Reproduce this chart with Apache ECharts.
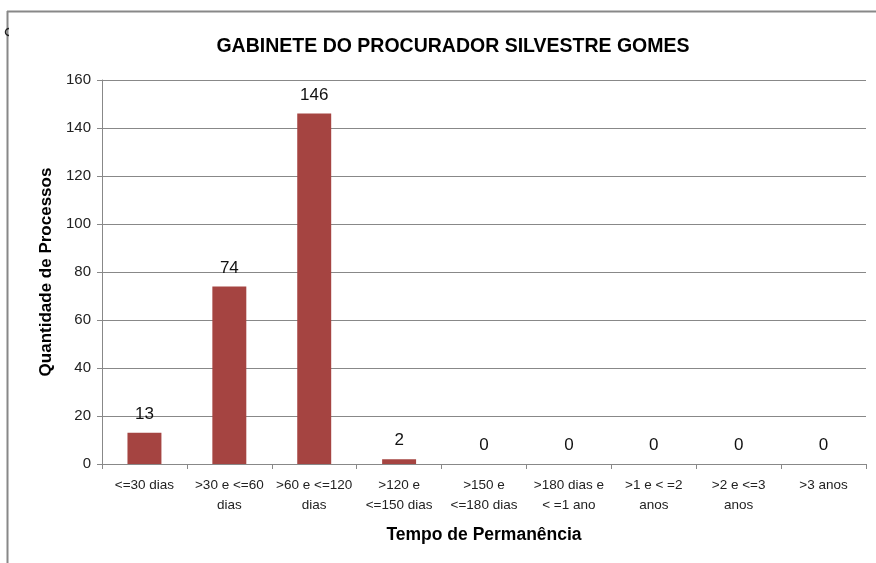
<!DOCTYPE html>
<html>
<head>
<meta charset="utf-8">
<script src="https://cdn.jsdelivr.net/npm/echarts@6/dist/echarts.min.js"></script>
<style>
html,body{margin:0;padding:0;background:#fff;}
#c{width:876px;height:563px;}
</style>
</head>
<body>
<div id="c"></div>
<script>
const categories = ["<=30 dias", ">30 e <=60\ndias", ">60 e <=120\ndias", ">120 e\n<=150 dias", ">150 e\n<=180 dias", ">180 dias e\n< =1 ano", ">1 e < =2\nanos", ">2 e <=3\nanos", ">3 anos"];
const values = [13, 74, 146, 2, 0, 0, 0, 0, 0];
const yTicks = [0, 20, 40, 60, 80, 100, 120, 140, 160];

const FONT = '"Liberation Sans", Arial, sans-serif';
const chart = echarts.init(document.getElementById('c'), null, {renderer: 'canvas'});
chart.setOption({
  animation: false,
  backgroundColor: '#fff',
  title: {
    text: 'GABINETE DO PROCURADOR SILVESTRE GOMES',
    left: 448, top: 32, textAlign: 'center',
    textStyle: {fontFamily: FONT, fontSize: 19.5, fontWeight: 'bold', color: '#000'}
  },
  graphic: [
    {type: 'line', shape: {x1: 7.5, y1: 11, x2: 7.5, y2: 563}, style: {stroke: '#888', lineWidth: 2}},
    {type: 'line', shape: {x1: 7, y1: 11.5, x2: 876, y2: 11.5}, style: {stroke: '#888', lineWidth: 2}},
    {type: 'arc', shape: {cx: 9, cy: 32, r: 3.5, startAngle: Math.PI / 2, endAngle: Math.PI * 1.5}, style: {stroke: '#222', lineWidth: 1.5, fill: null}}
  ],
  grid: {left: 102, right: 10, top: 80, bottom: 99, containLabel: false},
  xAxis: {
    type: 'category',
    data: categories,
    name: 'Tempo de Permanência',
    nameLocation: 'middle',
    nameGap: 62,
    nameTextStyle: {fontFamily: FONT, fontSize: 17.5, fontWeight: 'bold', color: '#000'},
    axisLine: {lineStyle: {color: '#888', width: 1}},
    axisTick: {show: true, alignWithLabel: false, length: 5, lineStyle: {color: '#888'}},
    axisLabel: {interval: 0, fontFamily: FONT, fontSize: 13.5, color: '#222', lineHeight: 20, margin: 11}
  },
  yAxis: {
    type: 'value',
    min: yTicks[0], max: yTicks[yTicks.length - 1], interval: yTicks[1] - yTicks[0],
    name: 'Quantidade de Processos',
    nameLocation: 'middle',
    nameGap: 44,
    nameRotate: 90,
    nameTextStyle: {fontFamily: FONT, fontSize: 17, fontWeight: 'bold', color: '#000'},
    axisLine: {show: true, lineStyle: {color: '#888', width: 1}},
    axisTick: {show: true, length: 5, lineStyle: {color: '#888'}},
    axisLabel: {fontFamily: FONT, fontSize: 15, color: '#222', margin: 11},
    splitLine: {lineStyle: {color: '#888', width: 1}}
  },
  series: [{
    type: 'bar',
    data: values,
    barWidth: '40%',
    itemStyle: {color: '#A54441'},
    label: {show: true, position: 'top', distance: 10, fontFamily: FONT, fontSize: 17, color: '#111'}
  }]
});
</script>
</body>
</html>
